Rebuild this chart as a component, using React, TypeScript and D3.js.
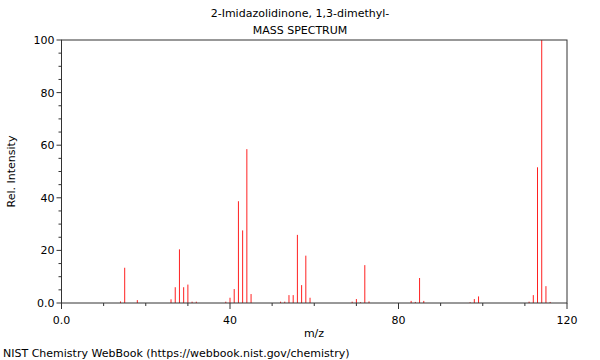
import React from "react";
import * as d3 from "d3";

const title1 = "2-Imidazolidinone, 1,3-dimethyl-";
const title2 = "MASS SPECTRUM";
const xLabel = "m/z";
const yLabel = "Rel. Intensity";
const footer = "NIST Chemistry WebBook (https://webbook.nist.gov/chemistry)";

const mz = [14, 15, 18, 26, 27, 28, 29, 30, 31, 32, 39, 40, 41, 42, 43, 44, 45, 52, 53, 54, 55, 56, 57, 58, 59, 69, 70, 71, 72, 73, 83, 84, 85, 86, 97, 98, 99, 111, 112, 113, 114, 115, 116];
const intensity = [0.6, 13.4, 1.1, 1.4, 6.0, 20.4, 6.0, 7.0, 0.5, 0.5, 0.5, 2.0, 5.3, 38.7, 27.6, 58.5, 3.4, 0.5, 0.5, 3.0, 3.0, 25.9, 6.8, 18.0, 2.0, 0.5, 1.5, 0.3, 14.4, 0.6, 0.8, 0.4, 9.5, 0.8, 0.3, 1.5, 2.5, 0.5, 3.0, 51.6, 100, 6.4, 0.4];

const xMajor = [0, 40, 80, 120];
const xMajorLabels = ["0.0", "40", "80", "120"];
const yMajor = [0, 20, 40, 60, 80, 100];
const yMajorLabels = ["0.0", "20", "40", "60", "80", "100"];

export default function App() {
  const left = 61.5, right = 567, top = 40, bottom = 303;
  const x = d3.scaleLinear().domain([0, 120]).range([left, right]);
  const y = d3.scaleLinear().domain([0, 100]).range([bottom, top]);
  const xMinor = d3.range(0, 121, 10).filter((v) => !xMajor.includes(v));
  const yMinor = d3.range(0, 101, 5).filter((v) => !yMajor.includes(v));
  const font = "DejaVu Sans, sans-serif";
  const axisColor = "#333";
  return (
    <svg width={600} height={360} style={{ position: "absolute", left: 0, top: 0, background: "#fff" }} fontFamily={font}>
      <rect x={0} y={0} width={600} height={360} fill="#fff" />
      <text x={300} y={17} textAnchor="middle" fontSize={11}>{title1}</text>
      <text x={300} y={34} textAnchor="middle" fontSize={11}>{title2}</text>
      {mz.map((m, i) => (
        <line key={m} x1={x(m)} x2={x(m)} y1={y(0)} y2={y(intensity[i])} stroke="#ff2020" strokeWidth={1} />
      ))}
      <rect x={left} y={top} width={right - left} height={bottom - top} fill="none" stroke={axisColor} strokeWidth={1} />
      {xMajor.map((v, i) => (
        <g key={"xm" + v}>
          <line x1={x(v)} x2={x(v)} y1={bottom} y2={bottom + 6} stroke={axisColor} />
          <text x={x(v)} y={324} textAnchor="middle" fontSize={11}>{xMajorLabels[i]}</text>
        </g>
      ))}
      {xMinor.map((v) => (
        <line key={"xn" + v} x1={x(v)} x2={x(v)} y1={bottom} y2={bottom + 3} stroke={axisColor} />
      ))}
      {yMajor.map((v, i) => (
        <g key={"ym" + v}>
          <line x1={left - 5} x2={left} y1={y(v)} y2={y(v)} stroke={axisColor} />
          <text x={left - 7} y={y(v) + 4} textAnchor="end" fontSize={11}>{yMajorLabels[i]}</text>
        </g>
      ))}
      {yMinor.map((v) => (
        <line key={"yn" + v} x1={left - 3} x2={left} y1={y(v)} y2={y(v)} stroke={axisColor} />
      ))}
      <text x={314} y={337} textAnchor="middle" fontSize={11}>{xLabel}</text>
      <text transform={`translate(15,${(top + bottom) / 2}) rotate(-90)`} textAnchor="middle" fontSize={11}>{yLabel}</text>
      <text x={3} y={357} fontSize={11}>{footer}</text>
    </svg>
  );
}
